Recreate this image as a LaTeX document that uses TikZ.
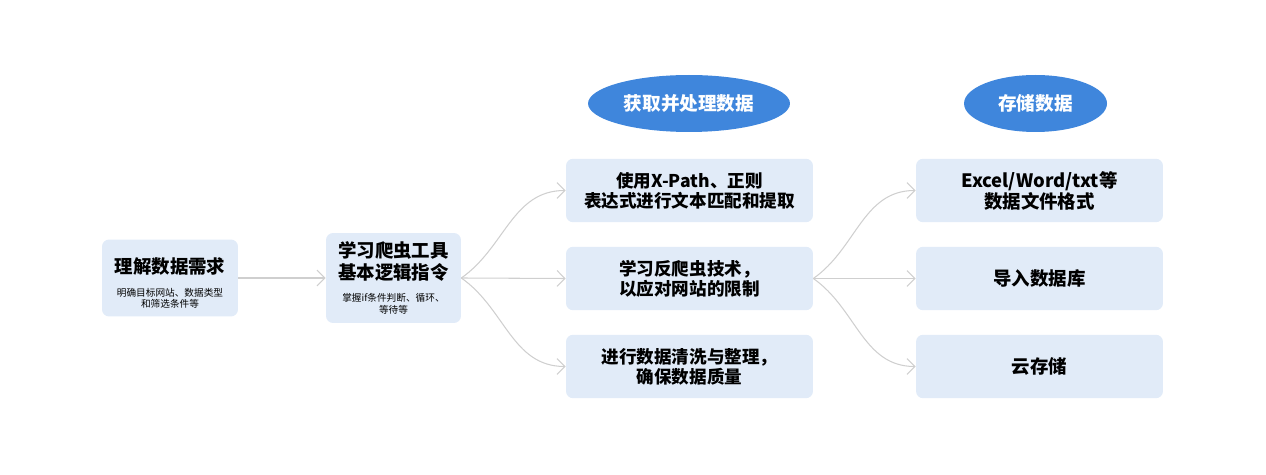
\documentclass[tikz,border=0pt]{standalone}
\usepackage{fontspec}
\setmainfont{Noto Sans CJK SC}
\usetikzlibrary{arrows.meta,shapes.geometric}
\definecolor{boxblue}{HTML}{E1EBF8}
\definecolor{headblue}{HTML}{3F86DC}
\definecolor{linegray}{HTML}{CFCFCF}
\newcommand\bigtxt{\fontsize{10.5}{12.5}\selectfont\bfseries}
\newcommand\midtxt{\fontsize{10}{11.5}\selectfont\bfseries}
\newcommand\righttxt{\fontsize{10.5}{12}\selectfont\bfseries}
\newcommand\headtxt{\fontsize{10.6}{12}\selectfont\bfseries}
\newcommand\smalltxt{\fontsize{5.5}{7}\selectfont\mdseries}
\tikzset{
  box/.style={fill=boxblue,rounded corners=4pt,align=center,inner sep=0pt},
  head/.style={ellipse,fill=headblue,text=white,inner sep=0pt,font=\headtxt},
  link/.style={draw=linegray,line width=0.6pt,-{Straight Barb[length=4.5pt,width=9pt]}}
}
\begin{document}
\begin{tikzpicture}[x=0.02cm,y=-0.02cm]
            \useasboundingbox (0,0) rectangle (1266,475);
            % left column
            \node [box,minimum width=2.72cm,minimum height=1.54cm] (need) at (170,278)
              {\rule{0pt}{15pt}\bigtxt 理解数据需求\\[1pt]\smalltxt 明确目标网站、数据类型\\[-5.5pt]\smalltxt 和筛选条件等};
            \node [box,minimum width=2.7cm,minimum height=1.8cm] (tool) at (393.5,278)
              {\bigtxt 学习爬虫工具\\\bigtxt 基本逻辑指令\\[1pt]\smalltxt 掌握if条件判断、循环、\\[-5.5pt]\smalltxt 等待等};
            % headings
            \node [head,minimum width=4.04cm,minimum height=1.14cm] (get) at (689,103.5) {获取并处理数据};
            \node [head,minimum width=2.86cm,minimum height=1.14cm] (save) at (1035.5,103.5) {存储数据};
            % middle column
            \node [box,minimum width=4.94cm,minimum height=1.27cm,font=\midtxt] (xpath) at (689.5,190.5)
              {使用X-Path、正则\\表达式进行文本匹配和提取};
            \node [box,minimum width=4.94cm,minimum height=1.27cm,font=\midtxt] (anti) at (689.5,278.5)
              {学习反爬虫技术，\\以应对网站的限制};
            \node [box,minimum width=4.94cm,minimum height=1.27cm,font=\midtxt] (clean) at (689.5,366.5)
              {进行数据清洗与整理，\\确保数据质量};
            % right column
            \node [box,minimum width=4.94cm,minimum height=1.27cm,font=\righttxt] (file) at (1039.5,190.5)
              {Excel/Word/txt等\\数据文件格式};
            \node [box,minimum width=4.94cm,minimum height=1.27cm,font=\righttxt] (db) at (1039.5,278.5) {导入数据库};
            \node [box,minimum width=4.94cm,minimum height=1.27cm,font=\righttxt] (cloud) at (1039.5,366.5) {云存储};
            % connectors
            \draw [link] (need) -- (tool);
            \draw [link] (tool.east) to [out=35,in=180] (xpath.west);
            \draw [link] (tool.east) -- (anti.west);
            \draw [link] (tool.east) to [out=-35,in=180] (clean.west);
            \draw [link] (anti.east) to [out=35,in=180] (file.west);
            \draw [link] (anti.east) -- (db.west);
            \draw [link] (anti.east) to [out=-35,in=180] (cloud.west);
        \end{tikzpicture}
\end{document}
